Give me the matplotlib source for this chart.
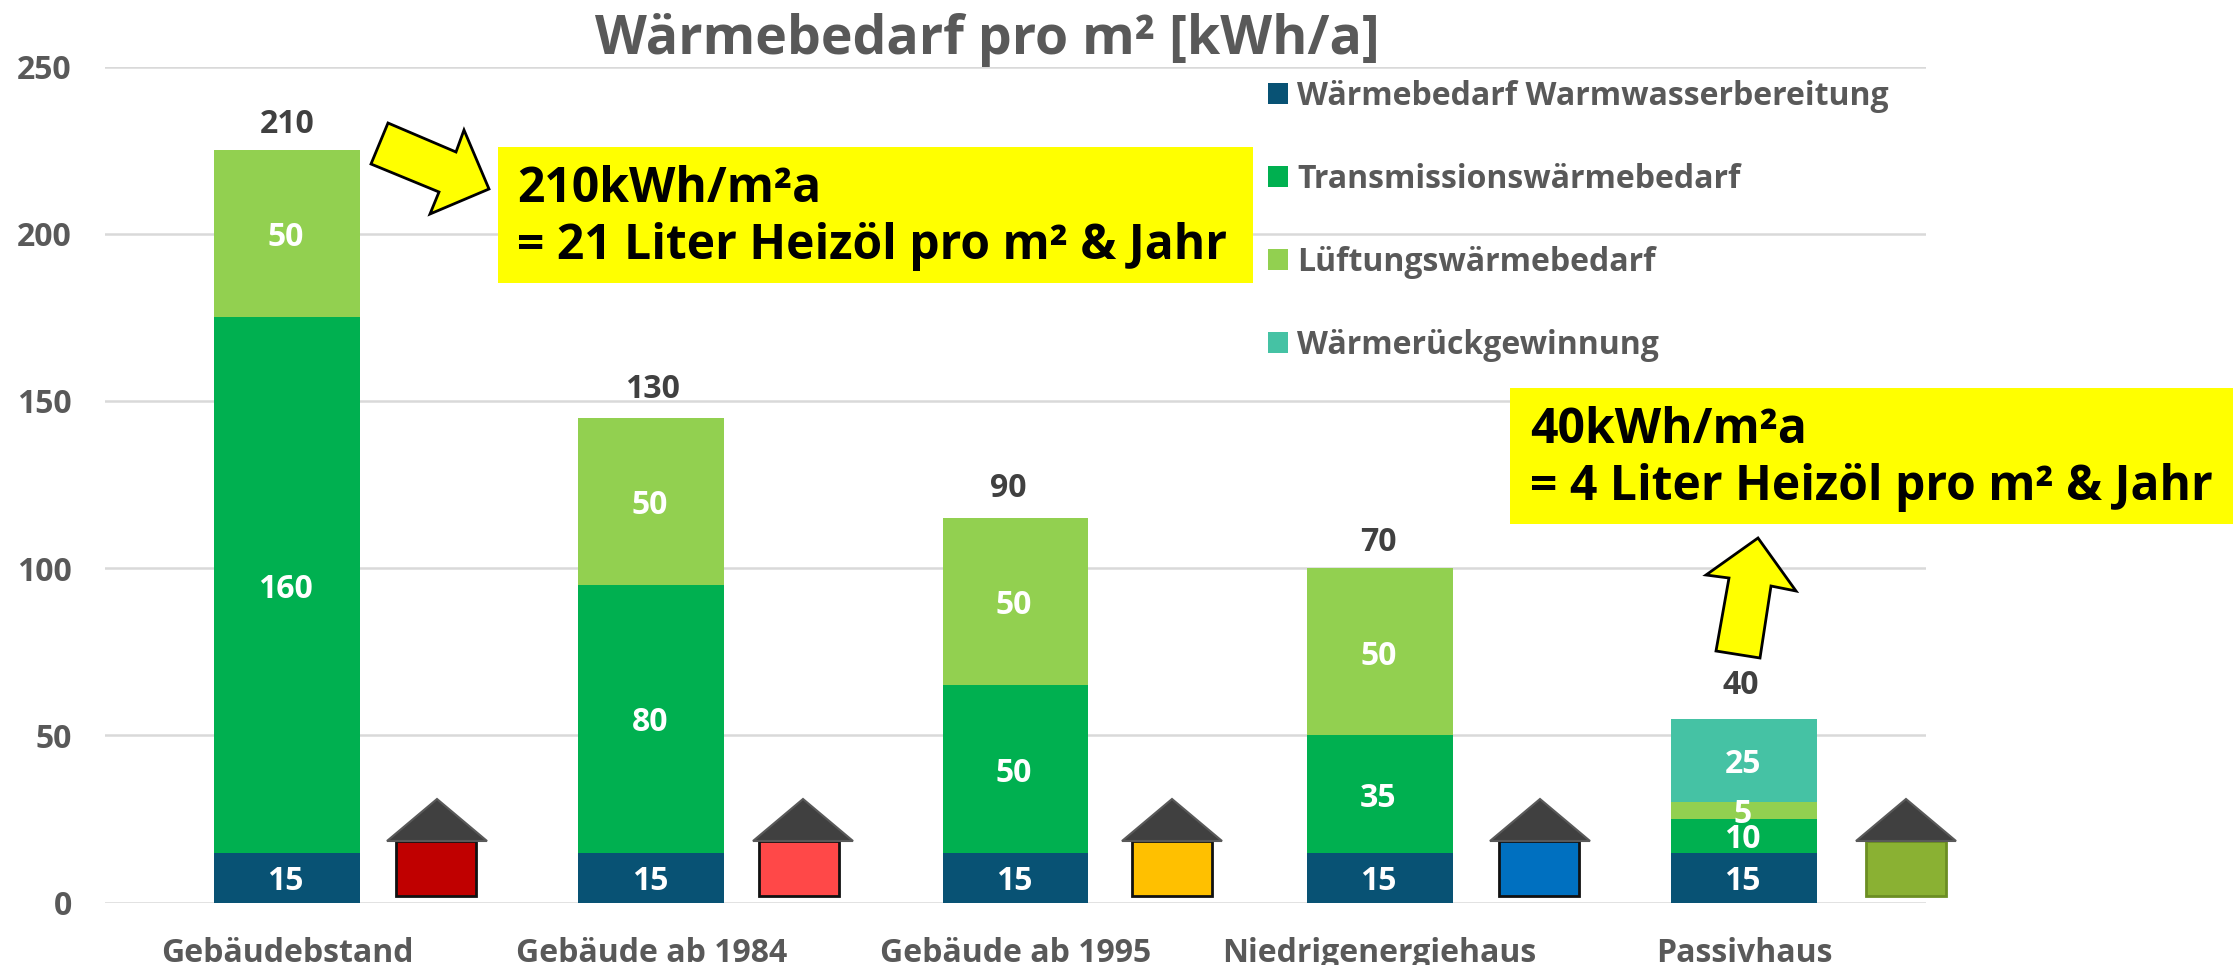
import matplotlib
matplotlib.use("Agg")
import matplotlib.pyplot as plt
import numpy as np
from matplotlib.patches import Polygon, Rectangle
from matplotlib.transforms import Affine2D

plt.rcParams['font.family'] = ['Open Sans', 'DejaVu Sans']
plt.rcParams['font.weight'] = 'bold'

W, H = 2233, 965

categories = ["Gebäudebstand", "Gebäude ab 1984", "Gebäude ab 1995", "Niedrigenergiehaus", "Passivhaus"]
warmwasser = [15, 15, 15, 15, 15]
transmission = [160, 80, 50, 35, 10]
lueftung = [50, 50, 50, 50, 5]
rueckgewinnung = [0, 0, 0, 0, 25]
totals = [210, 130, 90, 70, 40]
total_offsets_px = [26, 28, 30, 26, 33]
total_dx_px = [0, 1, -7, -1, -3]
series_names = ["Wärmebedarf Warmwasserbereitung", "Transmissionswärmebedarf",
                "Lüftungswärmebedarf", "Wärmerückgewinnung"]
series_colors = ["#085274", "#00B050", "#92D050", "#45C2A4"]
house_colors = ["#C00000", "#FF4848", "#FFC000", "#0070C0", "#8AB133"]
house_edges = ["#111111", "#111111", "#111111", "#111111", "#6B8E23"]
house_body_left = [396, 759, 1132, 1499, 1866]
house_apex = [437, 803, 1172, 1540, 1906]
box_texts = ["210kWh/m²a\n= 21 Liter Heizöl pro m² & Jahr", "40kWh/m²a\n= 4 Liter Heizöl pro m² & Jahr"]

GREY = "#595959"
fig = plt.figure(figsize=(W / 100, H / 100), dpi=100, facecolor="white")
ax = fig.add_axes([105 / W, 1 - 902.7 / H, (1926 - 105) / W, (902.7 - 66.5) / H])
px = Affine2D().scale(1 / W, -1 / H).translate(0, 1) + fig.transFigure

x = np.arange(len(categories))
bottom = np.zeros(len(categories))
handles = []
for vals, name, col in zip([warmwasser, transmission, lueftung, rueckgewinnung], series_names, series_colors):
    vals = np.array(vals, dtype=float)
    b = ax.bar(x, vals, 0.4, bottom=bottom, color=col, label=name, zorder=2)
    handles.append(b)
    for xi, v, bt in zip(x, vals, bottom):
        if v > 0:
            ax.annotate(f"{int(v)}", (xi, bt + v / 2), xytext=(-1, -3), textcoords="offset points",
                        color="white", fontsize=23, ha="center", va="center", zorder=4)
    bottom = bottom + vals

for xi, top, t, off, dx in zip(x, bottom, totals, total_offsets_px, total_dx_px):
    ax.annotate(f"{t}", (xi, top), xytext=(dx * 0.72, off * 0.72), textcoords="offset points",
                ha="center", va="center", fontsize=23, color="#404040", zorder=4)

ax.set_xlim(-0.5, 4.5)
ax.set_ylim(0, 250)
ax.set_yticks(np.arange(0, 251, 50))
ax.set_xticks(x, categories)
ax.tick_params(axis="both", length=0, labelsize=23, labelcolor=GREY)
ax.tick_params(axis="x", pad=25)
ax.tick_params(axis="y", pad=24)
ax.grid(axis="y", color="#D9D9D9", lw=1.8, zorder=0)
ax.set_axisbelow(True)
for s in ax.spines.values():
    s.set_visible(False)

ax.set_title("Wärmebedarf pro m² [kWh/a]", x=(987 - 105) / 1821, y=1, pad=9,
             fontsize=38.6, color=GREY, fontweight="bold")

fs = 23.05
leg = fig.legend(handles=handles, labels=series_names, loc="upper left",
                 bbox_to_anchor=(1268 / W, 1 - 80 / H), bbox_transform=fig.transFigure,
                 frameon=False, fontsize=fs, labelcolor=GREY, borderpad=0, borderaxespad=0,
                 handlelength=20 / (fs / 0.72), handleheight=20 / (fs / 0.72),
                 handletextpad=9 / (fs / 0.72), labelspacing=1.56)

# yellow call-out boxes
for (l, t, r, b), txt, (tx, ty) in zip([(498, 147, 1253, 283), (1510, 388, 2233, 524)], box_texts,
                                       [(517, 218), (1530, 459)]):
    fig.add_artist(Rectangle((l, t), r - l, b - t, transform=px, fc="#FFFF00", ec="none", zorder=2))
    fig.text(tx / W, 1 - ty / H, txt, fontsize=34.6, color="black", ha="left", va="center",
             linespacing=1.2, zorder=3)

# block arrows
arrow1 = [(388, 123), (456, 152), (464, 130), (489, 189), (430, 214), (439, 192), (371, 164)]
arrow2 = [(1758, 538), (1796, 591), (1771, 586), (1760, 658), (1716, 651), (1729, 578), (1706, 575)]
for a in (arrow1, arrow2):
    fig.add_artist(Polygon(a, closed=True, transform=px, fc="#FFFF00", ec="black", lw=2, zorder=2))

# little houses
for left, apex, fc, ec in zip(house_body_left, house_apex, house_colors, house_edges):
    fig.add_artist(Rectangle((left, 841), 80, 55, transform=px, fc=fc, ec=ec, lw=2, zorder=2))
    fig.add_artist(Polygon([(apex, 799), (apex + 50, 841), (apex - 50, 841)], closed=True, transform=px,
                           fc="#404040", ec="#595959", lw=1.5, zorder=2.5))

fig.savefig("out.png", dpi=100, facecolor="white")
